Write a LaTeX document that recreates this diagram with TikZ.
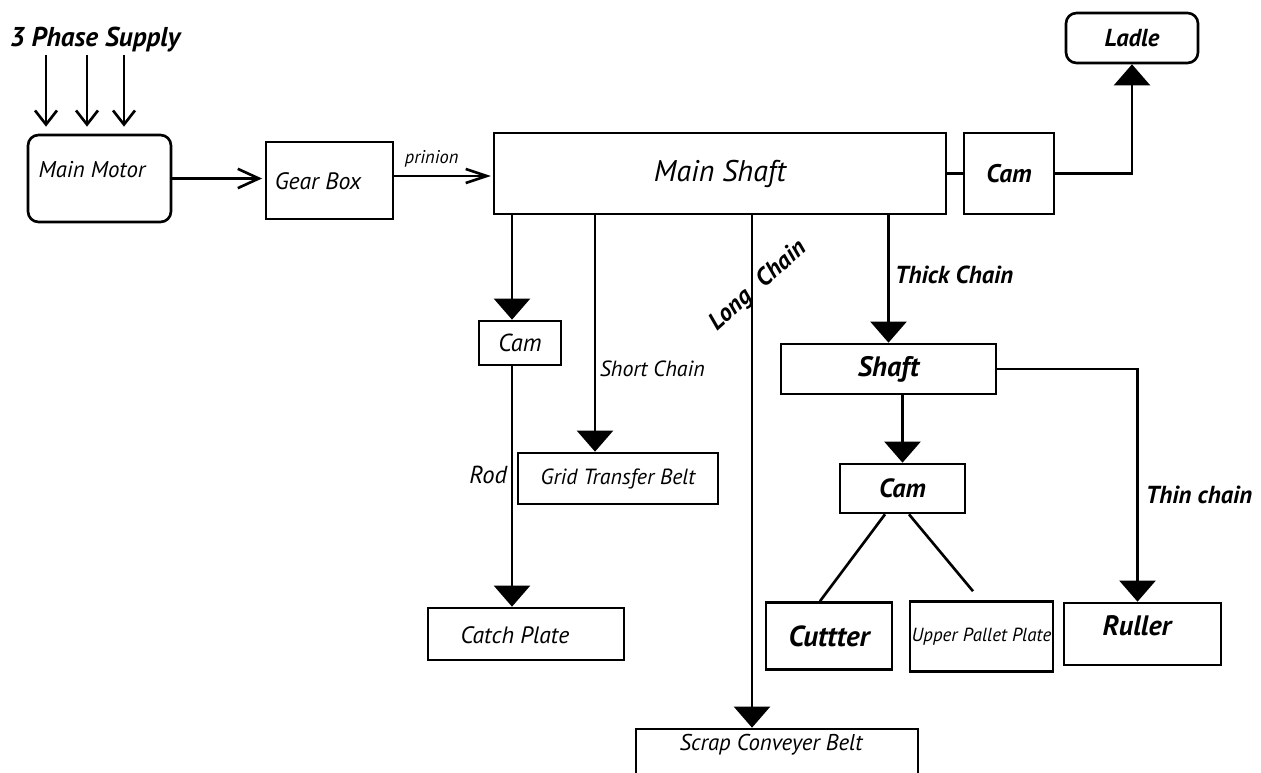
\documentclass[tikz,border=0pt]{standalone}
\usepackage{fontspec}
\setmainfont{PT Sans}
\usetikzlibrary{arrows.meta,calc}
\begin{document}
\begin{tikzpicture}[x=0.02cm,y=-0.02cm,
  line width=1.5pt,
  box/.style={draw,line width=1.5pt,inner sep=0pt},
  rbox/.style={box,rounded corners=6pt},
  sz/.style 2 args={minimum width=#1*0.02cm,minimum height=#2*0.02cm},
  txt/.style={inner sep=0pt,font=\itshape\fontsize{#1}{#1}\selectfont},
  btxt/.style={inner sep=0pt,font=\bfseries\itshape\fontsize{#1}{#1}\selectfont},
  feed/.style={-{Triangle[width=20.5pt,length=12pt]}},
  supplyarrow/.style={-{Straight Barb[width=12.5pt,length=8pt,line width=1.5pt]},shorten >=4pt},
  drivearrow/.style={-{Straight Barb[width=11pt,length=12pt,line width=1.5pt]},shorten >=1.5pt},
  pinionarrow/.style={-{Straight Barb[width=8pt,length=12pt,line width=1.5pt]},shorten >=1pt},
]
\useasboundingbox (0,0) rectangle (1261,773);
\fill[white] (0,0) rectangle (1261,773);
\clip (0,0) rectangle (1261,773);

% supply and drive train
\node[btxt=15.5] (supply) at (95,40) {3 Phase Supply};
\coordinate (p1) at (46,55);
\coordinate (p2) at (87,55);
\coordinate (p3) at (124,55);
\node[rbox,sz={143}{87}] (motor) at (99.5,178.5) {};
\node[txt=13] (motor-t) at (92,170) {Main Motor};
\node[box,sz={127}{77}] (gear) at (329.5,180.5) {};
\node[txt=13.5] (gear-t) at (318,181) {Gear Box};
\node[box,sz={452}{81},txt=17] (main) at (720,173.5) {Main Shaft};
\node[box,sz={90}{81},btxt=14.5] (camtop) at (1009,173.5) {Cam};
\node[rbox,sz={132}{50},btxt=14] (ladle) at (1132,38) {Ladle};

% driven units
\node[box,sz={82}{44},txt=14] (caml) at (520,343) {Cam};
\node[box,sz={200}{51},txt=12.5] (grid) at (618,478.5) {Grid Transfer Belt};
\node[box,sz={196}{52}] (catch) at (526,634) {};
\node[txt=13.5] (catch-t) at (515,635) {Catch Plate};
\node[box,sz={282}{51}] (scrap) at (777,754.5) {};
\node[txt=13] (scrap-t) at (771,745) {Scrap Conveyer Belt};
\node[box,sz={215}{50},btxt=16] (shaftr) at (888.5,369) {Shaft};
\node[box,sz={125}{49},btxt=15] (camr) at (902.5,488.5) {Cam};
\node[box,sz={126}{67},btxt=16.5] (cutter) at (829,636) {Cuttter};
\node[box,sz={143}{70},txt=10.8] (upper) at (981.5,636.5) {Upper Pallet Plate};
\node[box,sz={157}{62}] (ruller) at (1142.5,634) {};
\node[btxt=16] (ruller-t) at (1137,626) {Ruller};

% connectors
\foreach \p in {p1,p2,p3}
  \draw[supplyarrow] (\p) -- (\p |- motor.north);
\draw[drivearrow] (motor.east) -- (motor.east -| gear.west);
\draw[pinionarrow] ([yshift=0.09cm]gear.east) -- ([yshift=0.09cm]gear.east -| main.west)
  node[pos=0.38,above=4pt,txt=10.5] (pinion) {prinion};
\draw (main.east) -- (camtop.west);
\draw[feed] (camtop.east) -| (ladle.south);

\draw[feed] ([xshift=-0.16cm]caml.north |- main.south) -- ([xshift=-0.16cm]caml.north);
\draw[feed] ([xshift=-0.16cm]caml.south) -- ([xshift=-0.16cm]caml.south |- catch.north)
  node[pos=0.45,left=2pt,txt=14] (rod) {Rod};
\draw[feed] ([xshift=-0.46cm]grid.north |- main.south) -- ([xshift=-0.46cm]grid.north)
  node[pos=0.65,right=2pt,txt=12.5] (short) {Short Chain};
\draw[feed] ([xshift=-0.5cm]scrap.north |- main.south) -- ([xshift=-0.5cm]scrap.north);
\node[btxt=14,rotate=42] (long) at (758,286) {Long\hspace{0.6em}Chain};

\draw[feed] (shaftr.north |- main.south) -- (shaftr.north)
  node[pos=0.47,right=3pt,btxt=14] (thick) {Thick Chain};
\draw[feed] (camr.north |- shaftr.south) -- (camr.north);
\draw ([xshift=-0.35cm]camr.south) -- ([xshift=-0.18cm]cutter.north);
\draw ([xshift=0.13cm]camr.south) -- ([xshift=-0.17cm,yshift=0.18cm]upper.north);
\draw[feed] (shaftr.east) -| ([xshift=-0.1cm]ruller.north)
  node[pos=0.77,right=4pt,btxt=14] (thin) {Thin chain};
\end{tikzpicture}
\end{document}
